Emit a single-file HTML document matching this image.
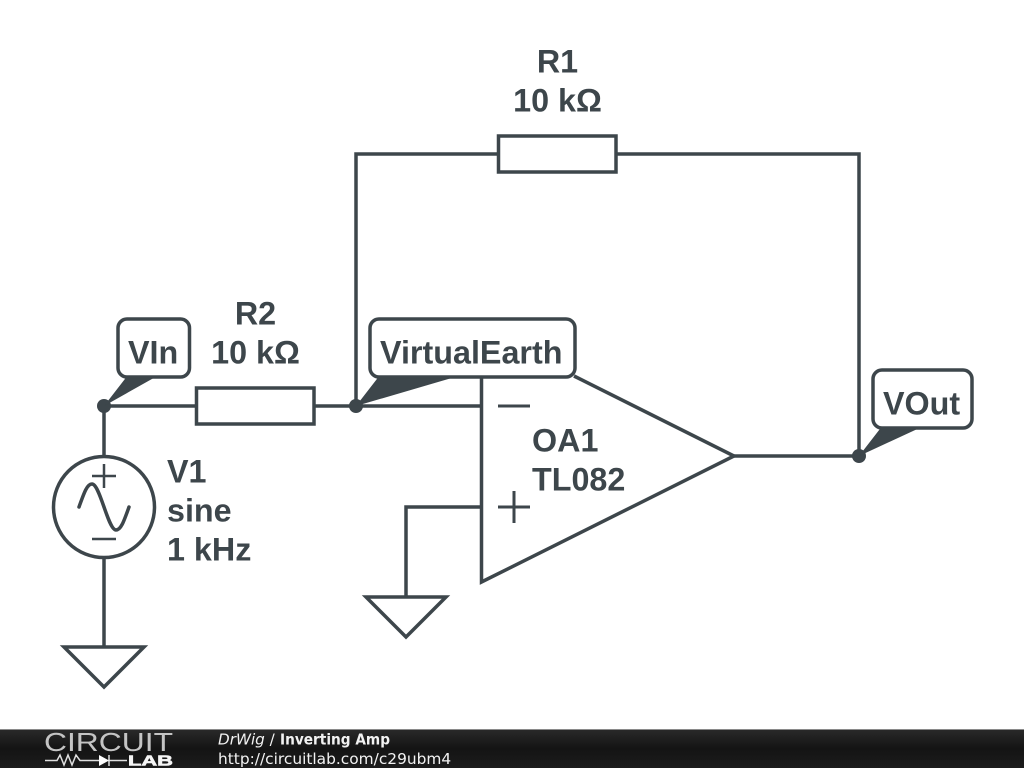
<!DOCTYPE html>
<html><head><meta charset="utf-8"><style>
html,body{margin:0;padding:0;background:#fff;width:1024px;height:768px;overflow:hidden}
svg{display:block}
</style></head><body>
<svg width="1024" height="768" viewBox="0 0 1024 768" xmlns="http://www.w3.org/2000/svg">
<defs><linearGradient id="g" x1="0" y1="0" x2="0" y2="1"><stop offset="0" stop-color="#2a2a2a"/><stop offset="0.5" stop-color="#141414"/><stop offset="1" stop-color="#1c1c1c"/></linearGradient></defs>
<rect width="1024" height="768" fill="#fff"/>
<g fill="none" stroke="#3d464b" stroke-width="3.500">
<path d="M356 406V154H499M616 154H859V456M104 406H197M314 406H482M104 406V457M104 557V647M734 456H859"/>
<rect x="498.500" y="136" width="117.500" height="36"/>
<rect x="196.500" y="388" width="117.500" height="36"/>
<circle cx="104" cy="507" r="50.500"/>
<path d="M79 507C84 493 87 484 92 484C100 484 108 530 116 530C121 530 124 521 129 507" stroke-linecap="round"/>
<path d="M92 476H116M104 464V488M92 539H116" stroke-width="2.500"/>
<path d="M64 647H144L104 687Z"/>
<path d="M366 597H446L406 637Z"/>
<path d="M406 597V507H482"/>
<path d="M481.500 378V582L734 456L574 376"/>
<path d="M498 406H530M498 507H530M514 491V523" stroke-width="3"/>
</g>
<g fill="#3d464b">
<circle cx="104" cy="406" r="7"/><circle cx="356" cy="406" r="7"/><circle cx="859" cy="456" r="7"/>
<path d="M104 406L128 375H159Z"/>
<path d="M356 406L380 375H462Z"/>
<path d="M859 456L883 425H926Z"/>
</g>
<g fill="#fff" stroke="#3d464b" stroke-width="3.500">
<rect x="118" y="319" width="71.500" height="58" rx="9"/>
<rect x="370" y="319" width="205" height="58" rx="9"/>
<rect x="873" y="370" width="99" height="58" rx="9"/>
</g>
<g font-family="'Liberation Sans',Arial,sans-serif" font-weight="700" font-size="32.300" fill="#3d464b">
<text x="557.500" y="72.500" text-anchor="middle">R1</text>
<text x="557.500" y="111.500" text-anchor="middle">10 kΩ</text>
<text x="255.500" y="324.500" text-anchor="middle">R2</text>
<text x="255.500" y="363.500" text-anchor="middle">10 kΩ</text>
<text x="128" y="363.500">VIn</text>
<text x="380" y="363.500">VirtualEarth</text>
<text x="883" y="414.500">VOut</text>
<text x="167" y="482.500">V1</text>
<text x="167" y="521.500">sine</text>
<text x="167" y="560.500">1 kHz</text>
<text x="532" y="451.500">OA1</text>
<text x="532" y="490.500">TL082</text>
</g>
<rect x="0" y="729" width="1024" height="39" fill="url(#g)"/>
<rect x="0" y="729" width="1024" height="1" fill="#8a8a8a"/>
<text x="44" y="751" font-family="'Liberation Sans',sans-serif" font-size="26" fill="#c4c4c4" textLength="129" lengthAdjust="spacingAndGlyphs">CIRCUIT</text>
<path d="M45 760.500H57L60 755L64 765L68 755L72 765L76 755L80 760.500H99M108 760.500H127M109 755V766" fill="none" stroke="#e0e0e0" stroke-width="1.500"/>
<path d="M99 755L109 760.500L99 766Z" fill="#fff"/>
<text x="128" y="765.500" font-family="'Liberation Sans',sans-serif" font-size="14.500" font-weight="700" fill="#f5f5f5" stroke="#f5f5f5" stroke-width="0.600" textLength="45" lengthAdjust="spacingAndGlyphs">LAB</text>
<text x="218" y="744.500" font-family="'DejaVu Sans',sans-serif" font-size="15.200" fill="#f2f2f2"><tspan font-style="italic">DrWig</tspan> /</text>
<text x="280" y="744.500" font-family="'DejaVu Sans',sans-serif" font-size="15" font-weight="700" fill="#f2f2f2" textLength="110" lengthAdjust="spacingAndGlyphs">Inverting Amp</text>
<text x="218" y="764" font-family="'DejaVu Sans',sans-serif" font-size="15.400" fill="#f2f2f2">http://circuitlab.com/c29ubm4</text>
</svg>
</body></html>
